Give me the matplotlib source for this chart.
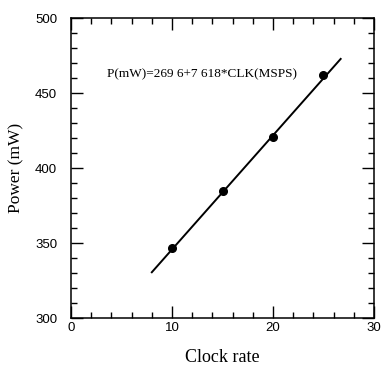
import matplotlib
matplotlib.use("Agg")
import matplotlib.pyplot as plt
import numpy as np
from matplotlib.ticker import MultipleLocator

clk = [10, 15, 20, 25]
power = [346.7, 384.9, 420.7, 462.2]
fit_x = [8.0, 26.7]
intercept = 269.6
slope = 7.618
annotation = "P(mW)=269 6+7 618*CLK(MSPS)"

fig = plt.figure(figsize=(3.81, 3.69), dpi=100)
ax = fig.add_axes([0.1864, 0.1382, 0.9816 - 0.1864, 0.9499 - 0.1382])

fx = np.array(fit_x)
ax.plot(fx, intercept + slope * fx, color="black", lw=1.4)
ax.plot(clk, power, "o", color="black", ms=5.5)

ax.set_xlim(0, 30)
ax.set_ylim(300, 500)
ax.xaxis.set_major_locator(MultipleLocator(10))
ax.xaxis.set_minor_locator(MultipleLocator(2))
ax.yaxis.set_major_locator(MultipleLocator(50))
ax.yaxis.set_minor_locator(MultipleLocator(10))
ax.tick_params(which="both", direction="in", top=True, right=True, width=1.0,
               labelsize=9.5)
ax.tick_params(axis="y", pad=10)
ax.tick_params(axis="x", pad=3)
ax.tick_params(which="major", length=8.5)
ax.tick_params(which="minor", length=4.5)
for lab in ax.get_xticklabels() + ax.get_yticklabels():
    lab.set_family("Liberation Sans")
for s in ax.spines.values():
    s.set_linewidth(1.1)

ax.set_xlabel("Clock rate", family="Liberation Serif", fontsize=13, labelpad=11)
ax.set_ylabel("Power (mW)", family="Liberation Serif", fontsize=12.5, labelpad=8)
ax.text(3.55, 463, annotation, family="Liberation Serif", fontsize=9.5, va="center")

fig.savefig("out.png", dpi=100)
